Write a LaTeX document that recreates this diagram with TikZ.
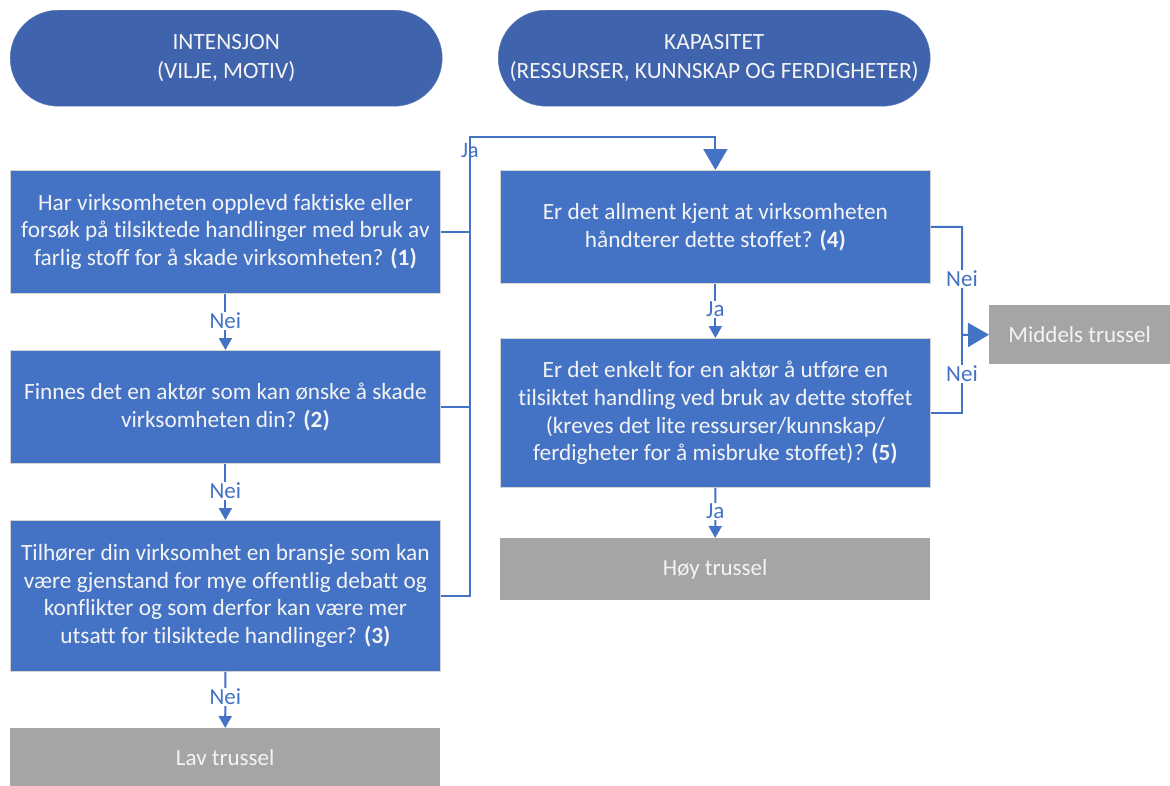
\documentclass[tikz,border=0pt]{standalone}
\usepackage{fontspec}
\setmainfont[Ligatures=NoCommon]{Carlito}
\usetikzlibrary{arrows.meta}
\definecolor{boxblue}{HTML}{4472C4}
\definecolor{pillblue}{HTML}{3F63AC}
\definecolor{gbox}{HTML}{A5A5A5}
\definecolor{edgegray}{HTML}{D4D4D4}
\definecolor{txt}{HTML}{F4F4F4}
\begin{document}
\begin{tikzpicture}[x=1pt,y=-1pt,
  qbox/.style={draw=edgegray, line width=0.8pt, fill=boxblue, text=txt, align=center,
    font=\fontsize{23.3}{27.8}\selectfont, minimum width=430pt, inner sep=0pt, anchor=north west},
  gbx/.style={fill=gbox, text=txt, align=center, font=\fontsize{23}{26}\selectfont,
    inner sep=0pt, anchor=north west},
  pill/.style={fill=pillblue, draw=pillblue!85!white, text=txt, align=center,
    font=\fontsize{23.3}{29.5}\selectfont, minimum width=432pt, minimum height=96pt,
    rounded corners=48pt, inner sep=0pt, anchor=north west},
  conn/.style={draw=boxblue, line width=2pt, -{Triangle[width=13pt,length=12pt]}},
  connbig/.style={draw=boxblue, line width=2pt, -{Triangle[width=24pt,length=21pt]}},
  line/.style={draw=boxblue, line width=2pt},
  lab/.style={fill=white, text=boxblue, font=\fontsize{23}{26}\selectfont, inner sep=1pt}
]
\useasboundingbox (0,0) rectangle (1170,785);

% header pills
\node[pill] (p1) at (10,10) {INTENSJON\\(VILJE, MOTIV)};
\node[pill] (p2) at (498,10) {KAPASITET\\(RESSURSER, KUNNSKAP OG FERDIGHETER)};

% left column
\node[qbox, minimum height=123pt] (b1) at (10,170)
  {Har virksomheten opplevd faktiske eller\\forsøk på tilsiktede handlinger med bruk av\\farlig stoff for å skade virksomheten? \textbf{(1)}};
\node[qbox, minimum height=113pt] (b2) at (10,350)
  {Finnes det en aktør som kan ønske å skade\\virksomheten din? \textbf{(2)}};
\node[qbox, minimum height=151pt] (b3) at (10,520)
  {Tilhører din virksomhet en bransje som kan\\være gjenstand for mye offentlig debatt og\\konflikter og som derfor kan være mer\\utsatt for tilsiktede handlinger? \textbf{(3)}};
\node[gbx, minimum width=430pt, minimum height=58pt] (lav) at (10,728) {Lav trussel};

% right column
\node[qbox, minimum height=113pt] (b4) at (500,170)
  {Er det allment kjent at virksomheten\\håndterer dette stoffet? \textbf{(4)}};
\node[qbox, minimum height=149pt] (b5) at (500,338)
  {Er det enkelt for en aktør å utføre en\\tilsiktet handling ved bruk av dette stoffet\\(kreves det lite ressurser/kunnskap/\\ferdigheter for å misbruke stoffet)? \textbf{(5)}};
\node[gbx, minimum width=430pt, minimum height=62pt] (hoy) at (500,538) {Høy trussel};
\node[gbx, minimum width=181pt, minimum height=59pt] (mid) at (989,305) {Middels trussel};

% vertical "Nei"/"Ja" connectors
\draw[conn] (b1.south) -- node[lab, pos=0.48]{Nei} (b2.north);
\draw[conn] (b2.south) -- node[lab, pos=0.48]{Nei} (b3.north);
\draw[conn] (b3.south) -- node[lab, pos=0.45]{Nei} (lav.north);
\draw[conn] (b4.south) -- node[lab, pos=0.47]{Ja} (b5.north);
\draw[conn] (b5.south) -- node[lab, pos=0.47]{Ja} (hoy.north);

% "Ja" collector from left column to box 4
\coordinate (jx) at (470,137);
\draw[connbig] (b3.east) -| (jx) -| (b4.north);
\draw[line] (b1.east) -- (b1.east -| jx);
\draw[line] (b2.east) -- (b2.east -| jx);
\node[text=boxblue, font=\fontsize{22}{24}\selectfont, inner sep=0pt] (jal) at (470,151) {Ja};

% "Nei" connectors to Middels trussel
\coordinate (mj) at (962,335);
\draw[connbig] (b4.east) -| (mj) -- (mid.west);
\draw[line] (b5.east) -| (mj);
\node[lab] (n4) at (962,279) {Nei};
\node[lab] (n5) at (962,374) {Nei};
\end{tikzpicture}
\end{document}
